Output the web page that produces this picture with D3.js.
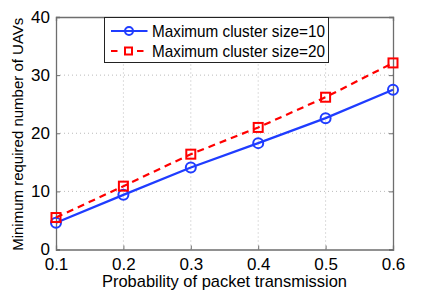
<!DOCTYPE html>
<html>
<head>
<meta charset="utf-8">
<script src="https://cdn.jsdelivr.net/npm/d3@7"></script>
<style>
  body { margin: 0; background: #fff; }
  text { font-family: "Liberation Sans", Arial, sans-serif; }
</style>
</head>
<body>
<div id="chart"></div>
<script>
// data
const probs = [0.1, 0.2, 0.3, 0.4, 0.5, 0.6]
const uavs10 = [4.6, 9.4, 14.1, 18.3, 22.6, 27.5]
const uavs20 = [5.5, 10.9, 16.4, 21.0, 26.2, 32.1]
const xTicks = [0.1, 0.2, 0.3, 0.4, 0.5, 0.6]
const yTicks = [0, 10, 20, 30, 40]
const seriesNames = ["Maximum cluster size=10", "Maximum cluster size=20"]

const width = 429, height = 293
const margin = {top: 17, right: 36, bottom: 43.5, left: 56}
const fontSize = 17

const svg = d3.select("#chart").append("svg")
  .attr("width", width)
  .attr("height", height)

const x = d3.scaleLinear()
  .domain([0.1, 0.6])
  .range([margin.left, width - margin.right])
const y = d3.scaleLinear()
  .domain([0, 40])
  .range([height - margin.bottom, margin.top])

const axisColor = "#6e6e6e"

// grid
const grid = svg.append("g")
grid.selectAll(".gx")
  .data(xTicks.slice(1, -1))
  .join("line")
    .attr("x1", d => x(d)).attr("x2", d => x(d))
    .attr("y1", y(0)).attr("y2", y(40))
    .attr("stroke", "#bbb")
    .attr("stroke-dasharray", "1,3")
grid.selectAll(".gy")
  .data(yTicks.slice(1, -1))
  .join("line")
    .attr("y1", d => y(d)).attr("y2", d => y(d))
    .attr("x1", x(0.1)).attr("x2", x(0.6))
    .attr("stroke", "#bbb")
    .attr("stroke-dasharray", "1,3")

// axes, ticks pointing inward like matlab
const xAxis = svg.append("g")
  .attr("transform", `translate(0,${y(0)})`)
  .call(d3.axisBottom(x).tickValues(xTicks).tickSize(-4).tickPadding(8).tickFormat(d3.format(".1f")))
const xAxisTop = svg.append("g")
  .attr("transform", `translate(0,${y(40)})`)
  .call(d3.axisTop(x).tickValues(xTicks).tickSize(-4).tickFormat(""))
const yAxis = svg.append("g")
  .attr("transform", `translate(${x(0.1)},0)`)
  .call(d3.axisLeft(y).tickValues(yTicks).tickSize(-4).tickPadding(6))
const yAxisRight = svg.append("g")
  .attr("transform", `translate(${x(0.6)},0)`)
  .call(d3.axisRight(y).tickValues(yTicks).tickSize(-4).tickFormat(""))

for (const ax of [xAxis, xAxisTop, yAxis, yAxisRight]) {
  ax.select(".domain").attr("stroke", axisColor).attr("stroke-width", 1.3)
  ax.selectAll(".tick line").attr("stroke", axisColor)
  ax.selectAll("text")
    .attr("fill", "#000")
    .attr("font-size", fontSize)
    .attr("font-family", "Liberation Sans, Arial, sans-serif")
}

// axis labels (narrow helvetica in the original, so squeeze to its width)
svg.append("text")
  .attr("x", (x(0.1) + x(0.6)) / 2)
  .attr("y", 287)
  .attr("text-anchor", "middle")
  .attr("font-size", fontSize)
  .attr("textLength", 245)
  .attr("lengthAdjust", "spacingAndGlyphs")
  .text("Probability of packet transmission")
svg.append("text")
  .attr("transform", `translate(23,${(y(0) + y(40)) / 2 + 1}) rotate(-90)`)
  .attr("text-anchor", "middle")
  .attr("font-size", 15)
  .text("Minimum required number of UAVs")

const line = d3.line()
  .x((d, i) => x(probs[i]))
  .y(d => y(d))

// series 1: blue solid w/ circles
svg.append("path")
  .datum(uavs10)
  .attr("d", line)
  .attr("fill", "none")
  .attr("stroke", "#1f3cff")
  .attr("stroke-width", 2.2)
svg.append("g").selectAll("circle")
  .data(uavs10)
  .join("circle")
    .attr("cx", (d, i) => x(probs[i]))
    .attr("cy", d => y(d))
    .attr("r", 5)
    .attr("fill", "none")
    .attr("stroke", "#1f3cff")
    .attr("stroke-width", 2)

// series 2: red dashed w/ squares
svg.append("path")
  .datum(uavs20)
  .attr("d", line)
  .attr("fill", "none")
  .attr("stroke", "#ff0000")
  .attr("stroke-width", 2.2)
  .attr("stroke-dasharray", "7,5")
svg.append("g").selectAll("rect")
  .data(uavs20)
  .join("rect")
    .attr("x", (d, i) => x(probs[i]) - 4.5)
    .attr("y", d => y(d) - 4.5)
    .attr("width", 9)
    .attr("height", 9)
    .attr("fill", "none")
    .attr("stroke", "#ff0000")
    .attr("stroke-width", 2)

// legend
const legend = svg.append("g")
legend.append("rect")
  .attr("x", 104.5).attr("y", 17.5)
  .attr("width", 224).attr("height", 45)
  .attr("fill", "#fff")
  .attr("stroke", "#222")
  .attr("stroke-width", 1)

const legendRows = [
  {name: seriesNames[0], color: "#1f3cff", dash: null, marker: "circle", y: 31},
  {name: seriesNames[1], color: "#ff0000", dash: "6.5,6.5", marker: "rect", y: 51}
]
for (const row of legendRows) {
  legend.append("line")
    .attr("x1", 111).attr("x2", 147.5)
    .attr("y1", row.y).attr("y2", row.y)
    .attr("stroke", row.color)
    .attr("stroke-width", 2.2)
    .attr("stroke-dasharray", row.dash)
  if (row.marker == "circle") {
    legend.append("circle")
      .attr("cx", 129).attr("cy", row.y).attr("r", 4)
      .attr("fill", "none").attr("stroke", row.color).attr("stroke-width", 2)
  } else {
    legend.append("rect")
      .attr("x", 125).attr("y", row.y - 3.5).attr("width", 7).attr("height", 7)
      .attr("fill", "#fff").attr("stroke", row.color).attr("stroke-width", 2)
  }
  legend.append("text")
    .attr("x", 152).attr("y", row.y)
    .attr("dy", "0.35em")
    .attr("font-size", fontSize)
    .attr("textLength", 173)
    .attr("lengthAdjust", "spacingAndGlyphs")
    .text(row.name)
}
</script>
</body>
</html>
